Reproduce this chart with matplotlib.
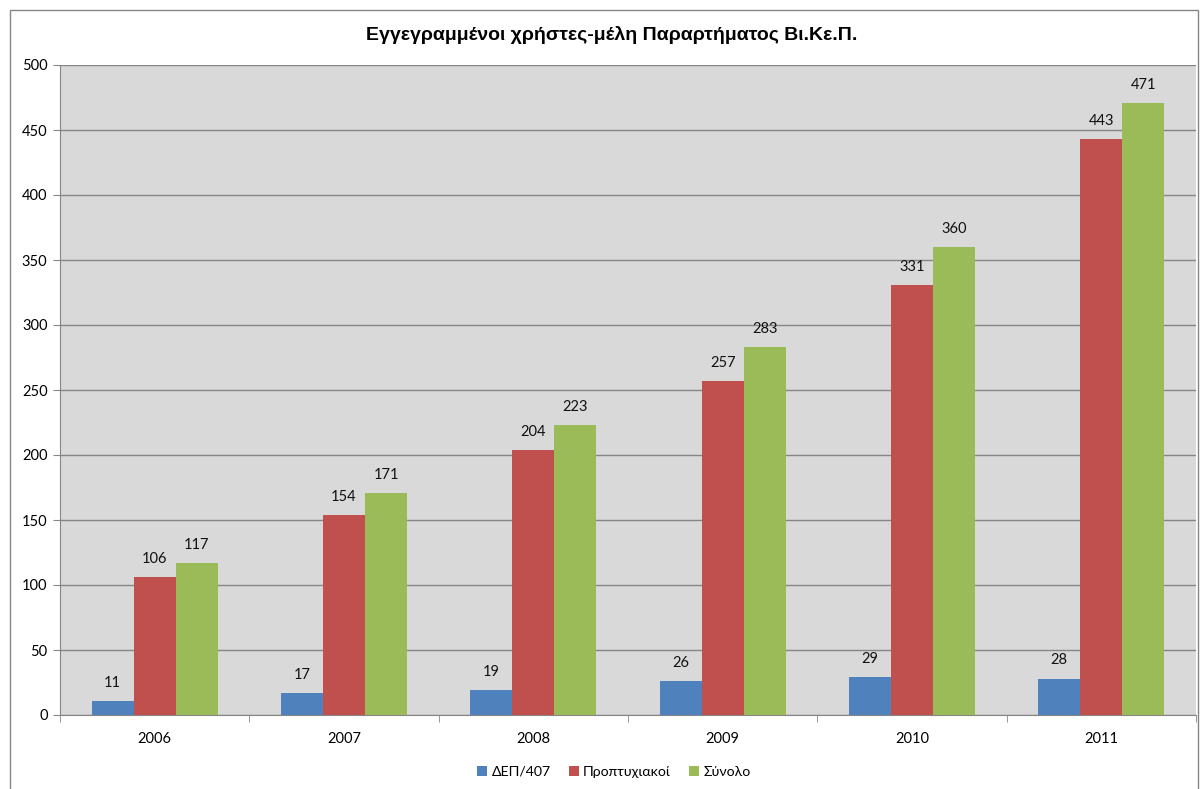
import matplotlib.pyplot as plt
import numpy as np
from matplotlib.patches import Rectangle

plt.rcParams['font.family'] = ['Lato', 'DejaVu Sans']

years = ["2006", "2007", "2008", "2009", "2010", "2011"]
dep = [11, 17, 19, 26, 29, 28]
proptyx = [106, 154, 204, 257, 331, 443]
synolo = [117, 171, 223, 283, 360, 471]

series = {
    'ΔΕΠ/407': (dep, '#4f81bd'),
    'Προπτυχιακοί': (proptyx, '#c0504d'),
    'Σύνολο': (synolo, '#9bbb59'),
}

x = np.arange(len(years))
width = 1 / 4.5  # excel gap width 150%

fig = plt.figure(figsize=(12.01, 7.89), dpi=100)
ax = fig.add_axes([60 / 1201, 74 / 789, 1136 / 1201, 650 / 789])
ax.set_facecolor('#d9d9d9')

for i, (name, (vals, col)) in enumerate(series.items()):
    rects = ax.bar(x + (i - 1) * width, vals, width, color=col, label=name, zorder=3)
    ax.bar_label(rects, padding=8, fontsize=10.5, color='#111111')

ax.set_xlim(-0.5, len(years) - 0.5)
ax.set_ylim(0, 500)
ax.set_yticks(np.arange(0, 501, 50))
ax.set_xticks(x, years)
ax.set_xticks(np.arange(-0.5, len(years)), minor=True)
ax.tick_params(axis='x', which='major', length=0, pad=12, labelsize=10.5)
ax.tick_params(axis='x', which='minor', length=5, color='#868686')
ax.tick_params(axis='y', length=5, color='#868686', labelsize=10.5, pad=4)
ax.grid(axis='y', color='#868686', linewidth=1, zorder=0)
for s in ('top', 'right'):
    ax.spines[s].set_visible(False)
for s in ('left', 'bottom'):
    ax.spines[s].set_color('#868686')

fig.text(612 / 1201, 1 - 35 / 789, 'Εγγεγραμμένοι χρήστες-μέλη Παραρτήματος Βι.Κε.Π.',
         family=['Liberation Sans', 'DejaVu Sans'], fontweight='bold',
         fontsize=14, ha='center', va='center')

fig.legend(loc='center', bbox_to_anchor=(614 / 1201, 1 - 772 / 789), ncols=3,
           frameon=False, fontsize=10.2, handlelength=0.7, handleheight=0.7,
           handletextpad=0.3, columnspacing=1.3)

fig.patches.append(Rectangle((10 / 1201, -0.01), 1188 / 1201, 1 - 10 / 789 + 0.01,
                             transform=fig.transFigure, fill=False,
                             edgecolor='#868686', linewidth=1))

fig.savefig('out.png', dpi=100)
